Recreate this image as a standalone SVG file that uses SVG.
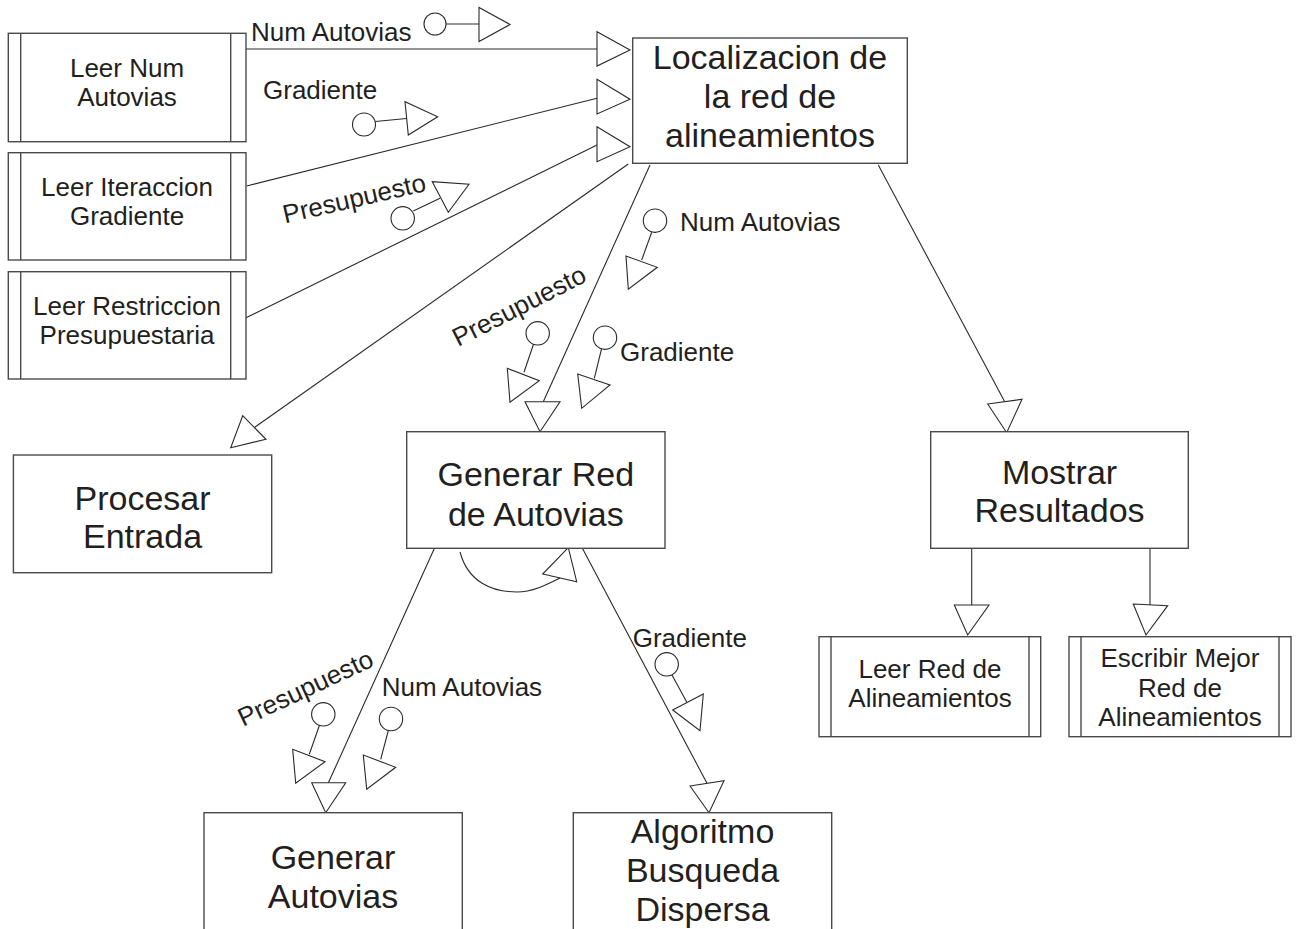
<svg xmlns="http://www.w3.org/2000/svg" width="1300" height="929" viewBox="0 0 1300 929">
  <style>
    .box { fill: #ffffff; stroke: #4a4a4a; stroke-width: 1.4; }
    .bar { fill: none; stroke: #4a4a4a; stroke-width: 1.4; }
    .ln { fill: none; stroke: #2a2a2a; stroke-width: 1.1; }
    .head { fill: #ffffff; stroke: #2a2a2a; stroke-width: 1.1; stroke-linejoin: miter; }
    .dot { fill: #ffffff; stroke: #2a2a2a; stroke-width: 1.1; }
    .big { font-family: "Liberation Sans", Arial, sans-serif; font-size: 34px; fill: #231f20; text-anchor: middle; }
    .small { font-family: "Liberation Sans", Arial, sans-serif; font-size: 26px; fill: #231f20; text-anchor: middle; }
    .lbl { font-family: "Liberation Sans", Arial, sans-serif; font-size: 26px; fill: #231f20; }
  </style>

  <!-- connectors: call lines, arrowheads, data couples and their labels -->
  <g id="connectors">
    <!-- Leer Num Autovias -> Localizacion -->
    <line class="ln" x1="246" y1="49" x2="598" y2="49"/>
    <polygon class="head" points="597,31.7 597,66 630,50"/>
    <text class="lbl" x="251" y="40.5">Num Autovias</text>
    <circle class="dot" cx="435" cy="24" r="11"/>
    <line class="ln" x1="446" y1="24" x2="479" y2="24"/>
    <polygon class="head" points="479,7.5 479,41.5 510,24.5"/>

    <!-- Leer Iteraccion Gradiente -> Localizacion -->
    <line class="ln" x1="246.7" y1="186" x2="598" y2="98"/>
    <polygon class="head" points="597,79.3 597,114 630,99.3"/>
    <text class="lbl" x="263" y="99.3">Gradiente</text>
    <circle class="dot" cx="364" cy="124.5" r="11.5"/>
    <line class="ln" x1="375.3" y1="121.5" x2="406.5" y2="118.5"/>
    <polygon class="head" points="405,101.7 408.3,135 437.7,116.7"/>

    <!-- Leer Restriccion Presupuestaria -> Localizacion -->
    <line class="ln" x1="245" y1="318.3" x2="598" y2="144.5"/>
    <polygon class="head" points="597,126.7 597,161.7 630,146.7"/>
    <text class="lbl" transform="translate(285,223.5) rotate(-13)">Presupuesto</text>
    <circle class="dot" cx="402.7" cy="218.3" r="11.7"/>
    <line class="ln" x1="413.3" y1="211" x2="440" y2="198.3"/>
    <polygon class="head" points="432.3,181.7 448.3,212.3 469,184.3"/>

    <!-- Localizacion -> Procesar Entrada -->
    <line class="ln" x1="628.3" y1="164" x2="254.4" y2="427.5"/>
    <polygon class="head" points="242.7,415.7 266,439.3 230.7,447.7"/>

    <!-- Localizacion -> Generar Red de Autovias -->
    <line class="ln" x1="650" y1="165" x2="543.3" y2="401.7"/>
    <polygon class="head" points="525,401.7 560,401.7 540,431.7"/>
    <circle class="dot" cx="655" cy="220.7" r="11.7"/>
    <line class="ln" x1="651.7" y1="232.2" x2="641.7" y2="260"/>
    <polygon class="head" points="626,256 628.3,289.3 657.3,267.3"/>
    <text class="lbl" x="680" y="230.7">Num Autovias</text>
    <text class="lbl" transform="translate(458,347) rotate(-27)">Presupuesto</text>
    <circle class="dot" cx="537.7" cy="333.3" r="11.7"/>
    <line class="ln" x1="533.5" y1="344.3" x2="524" y2="372.3"/>
    <polygon class="head" points="507.3,368.3 510,402.3 539.3,380.7"/>
    <circle class="dot" cx="605" cy="337.7" r="11.7"/>
    <line class="ln" x1="601.5" y1="349" x2="594.3" y2="378.3"/>
    <polygon class="head" points="577.7,374 581.7,408.3 610,385"/>
    <text class="lbl" x="620" y="360.7">Gradiente</text>

    <!-- Localizacion -> Mostrar Resultados -->
    <line class="ln" x1="878.3" y1="165" x2="1004.6" y2="401.6"/>
    <polygon class="head" points="987.7,404 1022,399.3 1006.7,432.7"/>

    <!-- Generar Red de Autovias: iteration on itself -->
    <path class="ln" d="M460,552 C468,582 492,592 517,592 C533,592 548,584 560,578"/>
    <polygon class="head" points="568.3,547.7 542.7,574 576.7,581.7"/>

    <!-- Generar Red de Autovias -> Generar Autovias -->
    <line class="ln" x1="435" y1="547" x2="328.3" y2="783"/>
    <polygon class="head" points="311.7,782.7 345.7,782.7 325.7,812.7"/>
    <text class="lbl" transform="translate(243,727) rotate(-25)">Presupuesto</text>
    <circle class="dot" cx="323.3" cy="714.3" r="11.7"/>
    <line class="ln" x1="319.3" y1="725.8" x2="309.3" y2="754.3"/>
    <polygon class="head" points="292.7,749.3 295.7,783.3 325,761.7"/>
    <text class="lbl" x="381.7" y="695.7">Num Autovias</text>
    <circle class="dot" cx="391" cy="719" r="11.7"/>
    <line class="ln" x1="388.3" y1="730.5" x2="380.7" y2="759.3"/>
    <polygon class="head" points="363.3,755 366.7,789.3 395.7,767.3"/>

    <!-- Generar Red de Autovias -> Algoritmo Busqueda Dispersa -->
    <line class="ln" x1="581.7" y1="547" x2="707" y2="783.3"/>
    <polygon class="head" points="690,786 724,780.7 709,812.7"/>
    <text class="lbl" x="632.7" y="647.3">Gradiente</text>
    <circle class="dot" cx="666.7" cy="664.3" r="11.7"/>
    <line class="ln" x1="672" y1="675" x2="686.7" y2="702"/>
    <polygon class="head" points="672.7,710 703.3,694 700,730.7"/>

    <!-- Mostrar Resultados -> children -->
    <line class="ln" x1="971.7" y1="548.3" x2="971.7" y2="605"/>
    <polygon class="head" points="954.3,605 989,605 967.7,635"/>
    <line class="ln" x1="1150" y1="548.3" x2="1150" y2="605"/>
    <polygon class="head" points="1133.3,604 1167.7,605.7 1146,635"/>
  </g>

  <!-- modules -->
  <g id="leer-num-autovias">
    <rect class="box" x="8.3" y="33.3" width="237.7" height="108.4"/>
    <path class="bar" d="M20.7,33.3 V141.7 M230.7,33.3 V141.7"/>
    <text class="small" x="127" y="77.3">Leer Num</text>
    <text class="small" x="127" y="106">Autovias</text>
  </g>

  <g id="leer-iteraccion-gradiente">
    <rect class="box" x="8.3" y="152.7" width="237.7" height="107.3"/>
    <path class="bar" d="M20.7,152.7 V260 M230.7,152.7 V260"/>
    <text class="small" x="127" y="196">Leer Iteraccion</text>
    <text class="small" x="127" y="225">Gradiente</text>
  </g>

  <g id="leer-restriccion-presupuestaria">
    <rect class="box" x="8.3" y="271.7" width="237.7" height="107.3"/>
    <path class="bar" d="M20.7,271.7 V379 M230.7,271.7 V379"/>
    <text class="small" x="127" y="315">Leer Restriccion</text>
    <text class="small" x="127" y="343.5">Presupuestaria</text>
  </g>

  <g id="localizacion-red">
    <rect class="box" x="632.7" y="38" width="274.6" height="125.3"/>
    <text class="big" x="770" y="69.3">Localizacion de</text>
    <text class="big" x="770" y="108">la red de</text>
    <text class="big" x="770" y="146.7">alineamientos</text>
  </g>

  <g id="procesar-entrada">
    <rect class="box" x="13.4" y="455" width="258.3" height="117.7"/>
    <text class="big" x="142.5" y="510">Procesar</text>
    <text class="big" x="142.5" y="548.3">Entrada</text>
  </g>

  <g id="generar-red-autovias">
    <rect class="box" x="406.7" y="431.7" width="258.3" height="116.6"/>
    <text class="big" x="535.8" y="486">Generar Red</text>
    <text class="big" x="535.8" y="526">de Autovias</text>
  </g>

  <g id="mostrar-resultados">
    <rect class="box" x="930.7" y="431.7" width="257.6" height="116.6"/>
    <text class="big" x="1059.5" y="484">Mostrar</text>
    <text class="big" x="1059.5" y="521.7">Resultados</text>
  </g>

  <g id="generar-autovias">
    <rect class="box" x="204" y="812.7" width="258.3" height="140"/>
    <text class="big" x="333" y="869.3">Generar</text>
    <text class="big" x="333" y="908.3">Autovias</text>
  </g>

  <g id="algoritmo-busqueda-dispersa">
    <rect class="box" x="573.3" y="812.7" width="258.4" height="140"/>
    <text class="big" x="702.5" y="843.3">Algoritmo</text>
    <text class="big" x="702.5" y="882">Busqueda</text>
    <text class="big" x="702.5" y="920.5">Dispersa</text>
  </g>

  <g id="leer-red-alineamientos">
    <rect class="box" x="819" y="636.7" width="221.7" height="100"/>
    <path class="bar" d="M831,636.7 V736.7 M1029,636.7 V736.7"/>
    <text class="small" x="930" y="677.7">Leer Red de</text>
    <text class="small" x="930" y="706.7">Alineamientos</text>
  </g>

  <g id="escribir-mejor-red">
    <rect class="box" x="1069" y="636.7" width="222" height="100"/>
    <path class="bar" d="M1081,636.7 V736.7 M1279,636.7 V736.7"/>
    <text class="small" x="1180" y="667.3">Escribir Mejor</text>
    <text class="small" x="1180" y="696.7">Red de</text>
    <text class="small" x="1180" y="726">Alineamientos</text>
  </g>
</svg>
